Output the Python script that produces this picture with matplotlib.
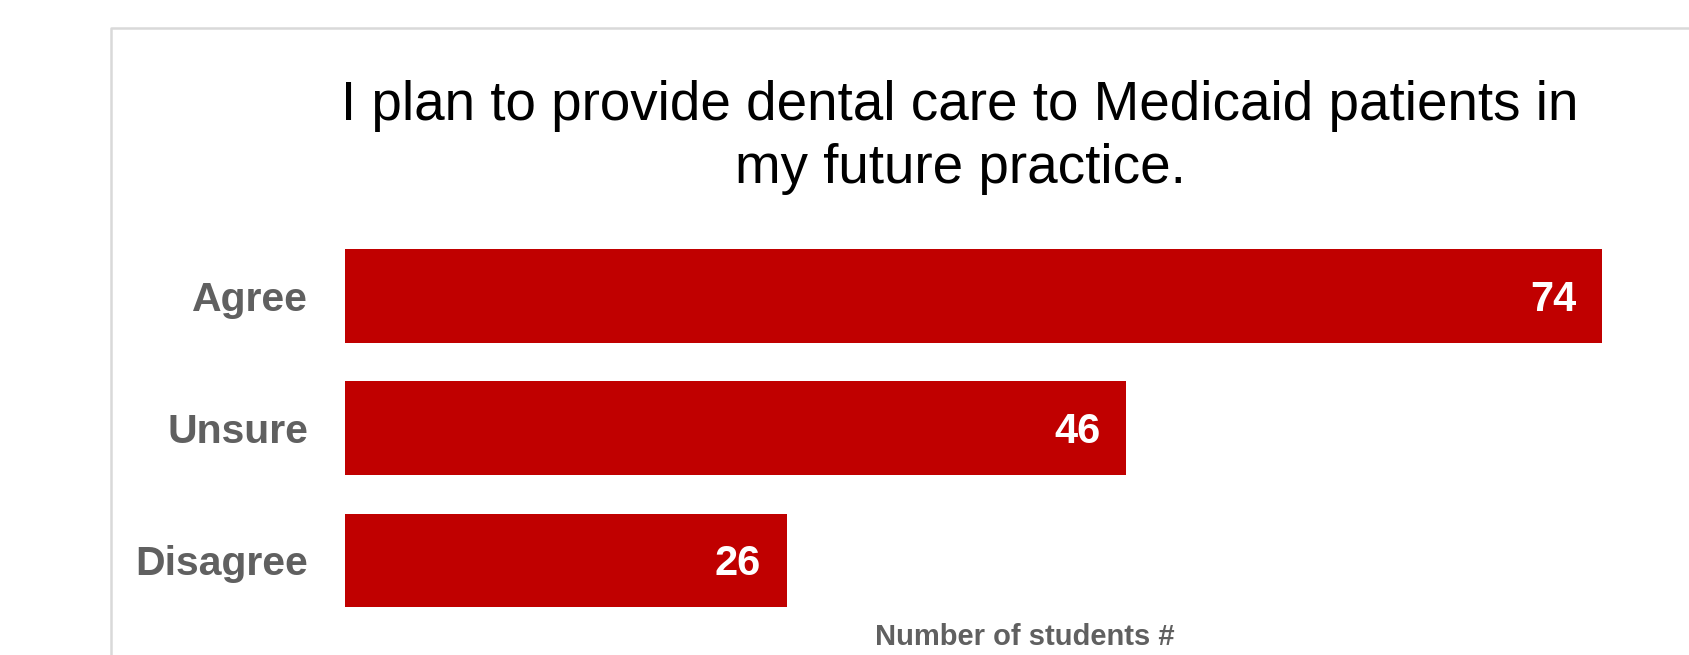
import matplotlib
matplotlib.use("Agg")
import matplotlib.pyplot as plt
from matplotlib.lines import Line2D

# chart data
categories = ["Disagree", "Unsure", "Agree"]
students = [26, 46, 74]
title_lines = ["I plan to provide dental care to Medicaid patients in",
               "my future practice."]
x_label = "Number of students #"

plt.rcParams['font.family'] = ['Liberation Sans', 'DejaVu Sans']

W, H = 1689, 655
fig = plt.figure(figsize=(W / 100, H / 100), dpi=100)

# axes placed in pixel terms (x from 345 to ~1704, y from 230 to 627)
ax = fig.add_axes([345 / W, (H - 626.6) / H, 1359 / W, 396.7 / H])

ypos = list(range(len(categories)))
ax.barh(ypos, students, height=0.71, color='#c00000')
ax.set_xlim(0, 80)
ax.set_ylim(-0.5, 2.5)

# value labels inside the bar ends
for y, v in zip(ypos, students):
    ax.annotate(str(v), xy=(v, y), xytext=(-18.5, -10.8), textcoords='offset points',
                ha='right', va='baseline', color='white', fontsize=30, fontweight='bold')

# y tick labels
ax.set_yticks(ypos)
ax.set_yticklabels(categories, fontsize=29.5, fontweight='bold', color='#606060')
ax.tick_params(axis='y', length=0, pad=26.5)
ax.set_xticks([])

for s in ax.spines.values():
    s.set_visible(False)

# x axis label
ax.set_xlabel(x_label, fontsize=21, fontweight='bold', color='#606060')
ax.xaxis.label.set_va('baseline')
ax.xaxis.set_label_coords(0.5, (626.6 - 645) / 396.7)

# title, two lines
fig.text(960 / W, 1 - 120 / H, title_lines[0], ha='center', va='baseline',
         fontsize=39.4, color='black')
fig.text(960 / W, 1 - 183 / H, title_lines[1], ha='center', va='baseline',
         fontsize=39.4, color='black')

# light grey frame, cut off at right and bottom
x0 = 111 / W
ytop = 1 - 28 / H
fig.add_artist(Line2D([x0, x0, 1.05], [-0.05, ytop, ytop], transform=fig.transFigure,
                      color='#d9d9d9', linewidth=1.8))

fig.savefig("out.png", dpi=100)
